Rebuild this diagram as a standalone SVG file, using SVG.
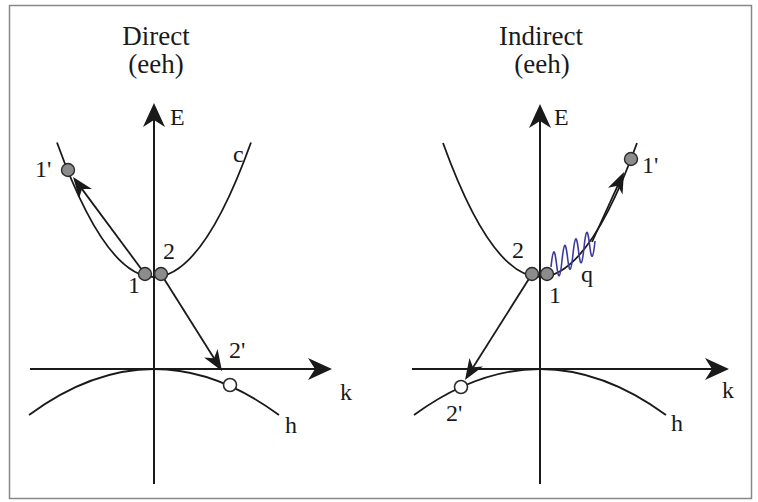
<svg xmlns="http://www.w3.org/2000/svg" width="758" height="502" viewBox="0 0 758 502">
<style>
.ax{stroke:#1a1a1a;stroke-width:2;fill:none}
.cv{stroke:#1a1a1a;stroke-width:1.8;fill:none}
.ar{stroke:#1a1a1a;stroke-width:1.8;fill:none}
.dot{fill:#8c8c8c;stroke:#2a2a2a;stroke-width:1.4}
.hole{fill:#fff;stroke:#2a2a2a;stroke-width:1.6}
.t{font-family:"Liberation Serif","Times New Roman",serif;fill:#1a1a1a}
.ti{font-size:27px;text-anchor:middle}
.lb{font-size:24px}
</style>
<defs>
<marker id="big" markerUnits="userSpaceOnUse" orient="auto" overflow="visible" refX="0" refY="0" markerWidth="1" markerHeight="1">
<path d="M14,0 L-10,-11 L-3,0 L-10,11 Z" fill="#1a1a1a"/>
</marker>
<marker id="small" markerUnits="userSpaceOnUse" orient="auto" overflow="visible" refX="0" refY="0" markerWidth="1" markerHeight="1">
<path d="M12,0 L-9,-8 L-3,0 L-9,8 Z" fill="#1a1a1a"/>
</marker>
</defs>
<rect x="9.5" y="5.5" width="742" height="493" fill="#fff" stroke="#888" stroke-width="1.5"/>

<!-- Left panel -->
<g id="left-panel">
<text class="t ti" x="156" y="45">Direct</text>
<text class="t ti" x="156" y="73">(eeh)</text>
<g id="left-axes">
<line class="ax" x1="154" y1="484" x2="154" y2="117" marker-end="url(#big)"/>
<line class="ax" x1="30" y1="369" x2="318" y2="369" marker-end="url(#big)"/>
<text class="t lb" x="170" y="125">E</text>
<text class="t lb" x="340" y="400">k</text>
</g>
<g id="left-c">
<path class="cv" d="M57,142.5 Q154,411.5 251,142.5"/>
<text class="t lb" x="233" y="162">c</text>
</g>
<g id="left-h">
<path class="cv" d="M29,415 Q154,323 279,415"/>
<text class="t lb" x="285" y="433">h</text>
</g>
</g>

<!-- Right panel -->
<g id="right-panel">
<text class="t ti" x="541" y="45">Indirect</text>
<text class="t ti" x="542" y="73">(eeh)</text>
<g id="right-axes">
<line class="ax" x1="540" y1="484" x2="540" y2="118" marker-end="url(#big)"/>
<line class="ax" x1="412" y1="369" x2="715" y2="369" marker-end="url(#big)"/>
<text class="t lb" x="554" y="125">E</text>
<text class="t lb" x="722" y="398">k</text>
</g>
<g id="right-c">
<path class="cv" d="M443,143 Q540,411 637,143"/>
</g>
<g id="right-h">
<path class="cv" d="M414,415 Q540,323 666,415"/>
<text class="t lb" x="671" y="431">h</text>
</g>
<g id="phonon-q">
<path d="M551,267 c2,-19 3.5,-20 5.5,-3.25 c2,17 3.5,16 5.5,-3.25 c2,-19 3.5,-20 5.5,-3.25 c2,17 3.5,16 5.5,-3.25 c2,-19 3.5,-20 5.5,-3.25 c2,17 3.5,16 5.5,-3.25 c2,-19 3.5,-20 5.5,-3.25 c2,17 3.5,16 5.5,-3.25" fill="none" stroke="#3a3a9a" stroke-width="1.6"/>
<text class="t lb" x="581" y="282">q</text>
</g>
</g>

<!-- Connectors -->
<g id="connectors">
<line class="ar" x1="145" y1="274" x2="80.2" y2="186.6" marker-end="url(#small)"/>
<line class="ar" x1="161" y1="274" x2="215.6" y2="360.8" marker-end="url(#small)"/>
<line class="ar" x1="592" y1="242" x2="619" y2="182.9" marker-end="url(#small)"/>
<line class="ar" x1="532" y1="274" x2="471.4" y2="369.9" marker-end="url(#small)"/>
</g>

<!-- Nodes (states) -->
<g id="L-1"><circle class="dot" cx="145" cy="274" r="6.5"/><text class="t lb" x="128" y="293">1</text></g>
<g id="L-2"><circle class="dot" cx="161" cy="274" r="6.5"/><text class="t lb" x="163" y="259">2</text></g>
<g id="L-1p"><circle class="dot" cx="68" cy="170" r="6.5"/><text class="t lb" x="35" y="177">1'</text></g>
<g id="L-2p"><circle class="hole" cx="230" cy="385" r="6.5"/><text class="t lb" x="229" y="358">2'</text></g>
<g id="R-2"><circle class="dot" cx="532" cy="274" r="6.5"/><text class="t lb" x="512" y="258">2</text></g>
<g id="R-1"><circle class="dot" cx="547" cy="274" r="6.5"/><text class="t lb" x="549" y="303">1</text></g>
<g id="R-1p"><circle class="dot" cx="631" cy="159" r="6.5"/><text class="t lb" x="642" y="173">1'</text></g>
<g id="R-2p"><circle class="hole" cx="461" cy="387" r="6.5"/><text class="t lb" x="446" y="421">2'</text></g>
</svg>
